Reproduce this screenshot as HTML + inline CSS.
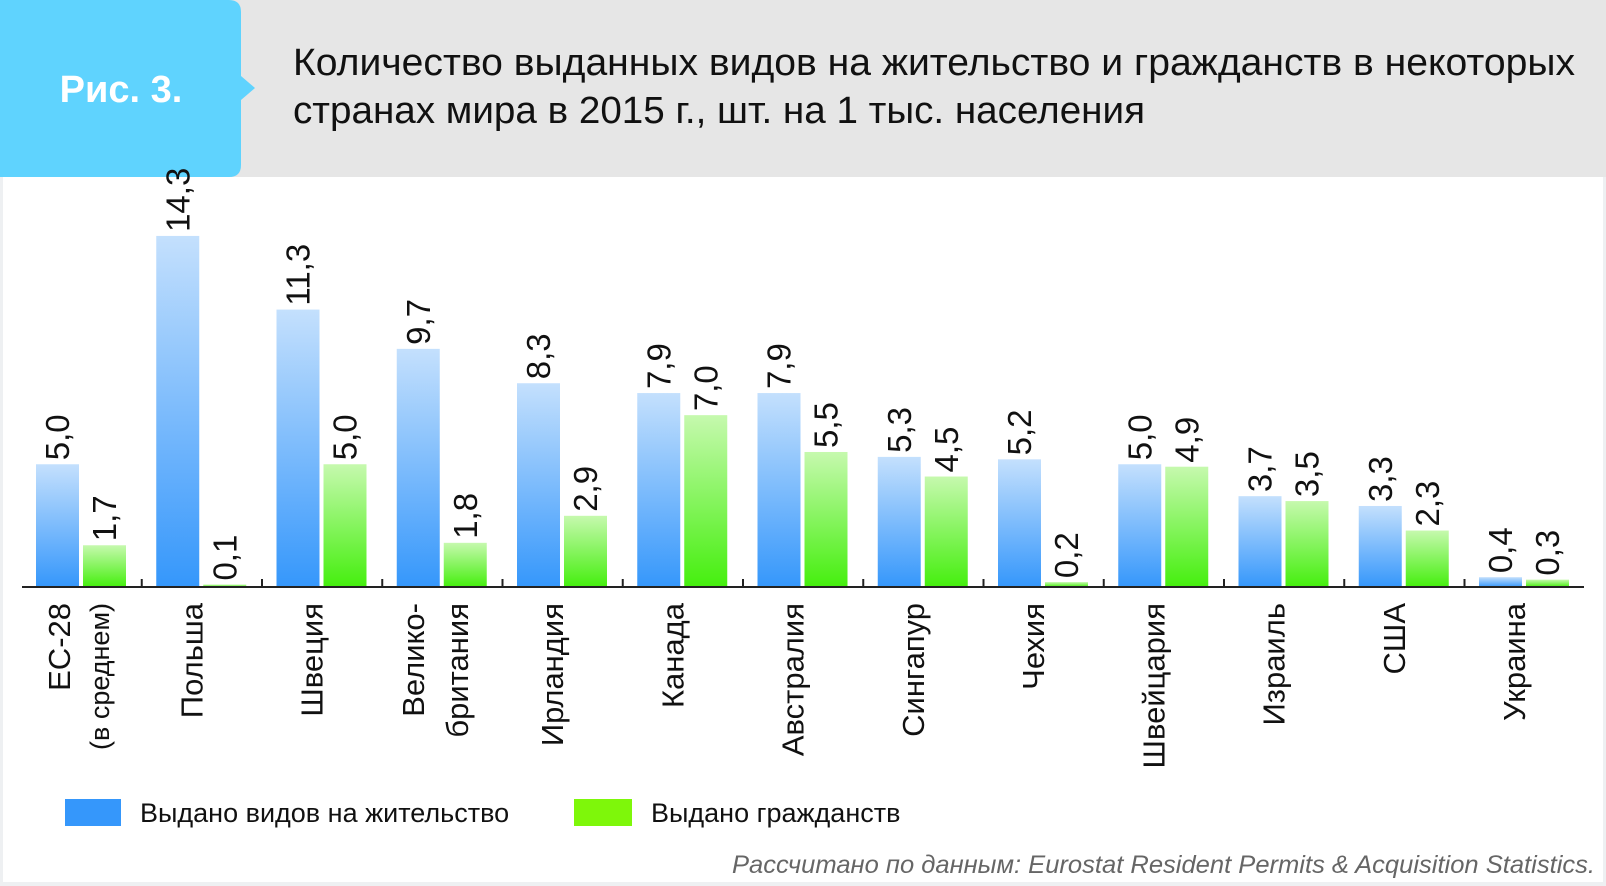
<!DOCTYPE html>
<html><head><meta charset="utf-8"><style>
html,body{margin:0;padding:0;background:#fff}
svg{display:block}
</style></head><body>
<svg width="1606" height="886" viewBox="0 0 1606 886" xmlns="http://www.w3.org/2000/svg" font-family="Liberation Sans, DejaVu Sans, sans-serif">
<defs>
<linearGradient id="gb" x1="0" y1="0" x2="0" y2="1"><stop offset="0" stop-color="#c4e0fd"/><stop offset="1" stop-color="#3597fb"/></linearGradient>
<linearGradient id="gg" x1="0" y1="0" x2="0" y2="1"><stop offset="0" stop-color="#c6f9ae"/><stop offset="1" stop-color="#45ef0e"/></linearGradient>
</defs>
<rect x="0" y="0" width="1606" height="886" fill="#eef0f2"/>
<rect x="3" y="0" width="1600" height="882" fill="#fff"/>
<rect x="0" y="0" width="1606" height="177" fill="#e6e6e6"/>
<path d="M0 0 H229 Q241 0 241 12 V76 L255 88 L241 100 V165 Q241 177 229 177 H0 Z" fill="#5fd3fe"/>
<text x="121" y="102" text-anchor="middle" font-size="38" font-weight="bold" fill="#fff">Рис. 3.</text>
<text x="293" y="75" font-size="38" fill="#111" textLength="1282" lengthAdjust="spacingAndGlyphs">Количество выданных видов на жительство и гражданств в некоторых</text>
<text x="293" y="123" font-size="38" fill="#111" textLength="852" lengthAdjust="spacingAndGlyphs">странах мира в 2015 г., шт. на 1 тыс. населения</text>
<g id="bars"></g>
<line x1="22" y1="587" x2="1584" y2="587" stroke="#222" stroke-width="2"/>
<rect x="65" y="799" width="56" height="27" fill="#3597fb"/>
<text x="140" y="822" font-size="27" fill="#111">Выдано видов на жительство</text>
<rect x="574" y="799" width="58" height="27" fill="#7ef70a"/>
<text x="651" y="822" font-size="27" fill="#111">Выдано гражданств</text>
<text x="1595" y="873" text-anchor="end" font-size="25" font-style="italic" fill="#666" textLength="863" lengthAdjust="spacingAndGlyphs">Рассчитано по данным: Eurostat Resident Permits &amp; Acquisition Statistics.</text>
</svg>
<script>
var d=[[5.0,1.7,["ЕС-28"]],[14.3,0.1,["Польша"]],[11.3,5.0,["Швеция"]],[9.7,1.8,["Велико-","британия"]],[8.3,2.9,["Ирландия"]],[7.9,7.0,["Канада"]],[7.9,5.5,["Австралия"]],[5.3,4.5,["Сингапур"]],[5.2,0.2,["Чехия"]],[5.0,4.9,["Швейцария"]],[3.7,3.5,["Израиль"]],[3.3,2.3,["США"]],[0.4,0.3,["Украина"]]];
var s='',k=24.55,B=587;
function f(v){return v.toFixed(1).replace('.',',');}
function vt(x,y,t,fs){return '<text transform="translate('+x+','+y+') rotate(-90)" font-size="'+fs+'" fill="#111">'+t+'</text>';}
function ct(x,t,fs){return '<text transform="translate('+x+',603) rotate(-90)" text-anchor="end" font-size="'+fs+'" fill="#111">'+t+'</text>';}
for(var i=0;i<d.length;i++){
 var g=36+i*120.25,a=d[i][0],b=d[i][1];
 var ha=a*k,hb=b*k;
 s+='<rect x="'+g+'" y="'+(B-ha)+'" width="43" height="'+ha+'" fill="url(#gb)"/>';
 s+='<rect x="'+(g+47)+'" y="'+(B-hb)+'" width="43" height="'+hb+'" fill="url(#gg)"/>';
 s+=vt(g+33,B-ha-4,f(a),33);
 s+=vt(g+80,B-hb-4,f(b),33);
 if(i>0){var tx=g-14.5;s+='<line x1="'+tx+'" y1="579" x2="'+tx+'" y2="587" stroke="#222" stroke-width="2"/>';}
 var L=d[i][2];
 if(i==0){s+=ct(g+34,L[0],31);s+=ct(g+73,'(в среднем)',27);}
 else if(L.length==2){s+=ct(g+27,L[0],31);s+=ct(g+71,L[1],31);}
 else s+=ct(g+46,L[0],31);
}
document.getElementById('bars').innerHTML=s;
</script>
</body></html>
